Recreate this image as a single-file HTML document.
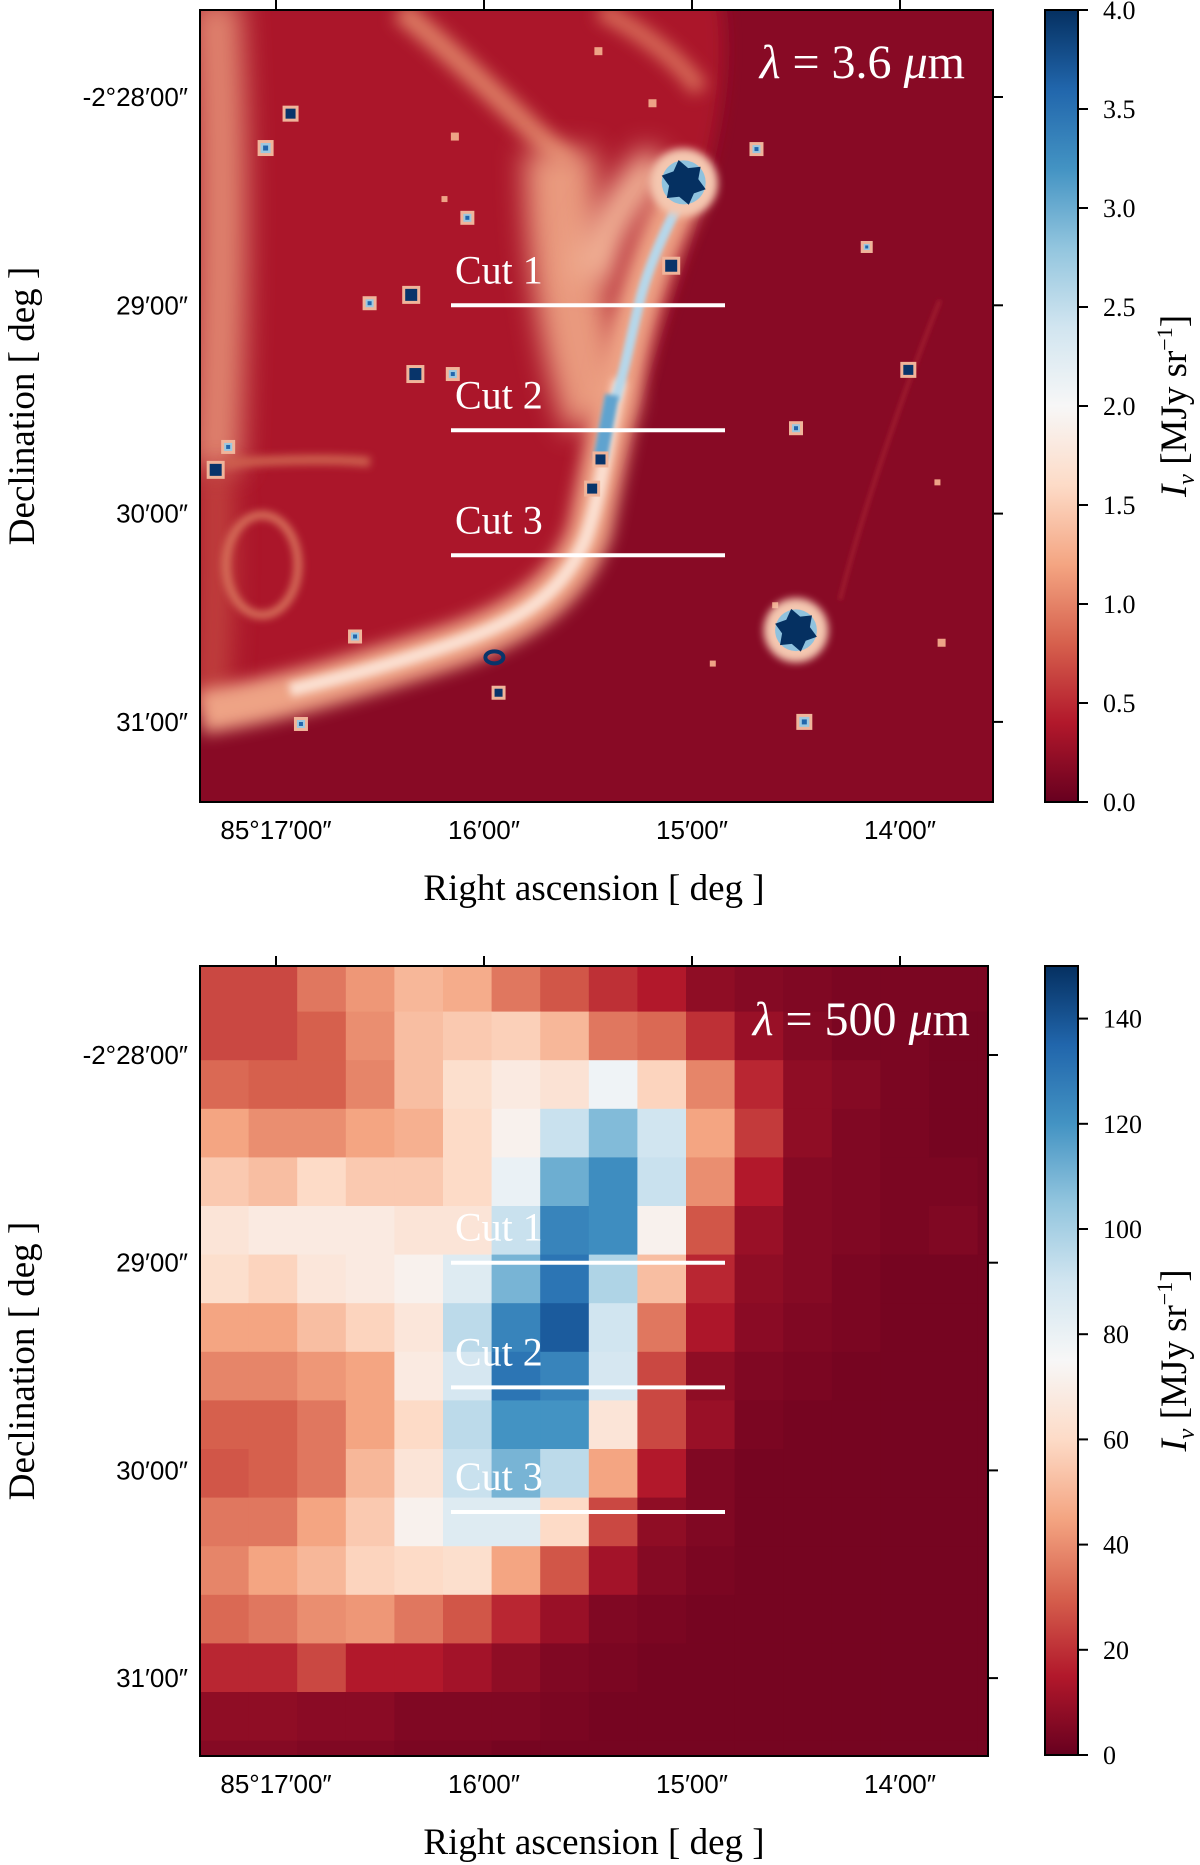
<!DOCTYPE html>
<html><head><meta charset="utf-8"><style>
html,body{margin:0;padding:0;background:#fff;width:1200px;height:1865px;overflow:hidden}
svg text{fill:#000}
.tk{font-family:"Liberation Sans Narrow","Liberation Sans",sans-serif;font-size:26px}
.ttl{font-family:"Liberation Serif",serif;font-size:37px}
.cb{font-family:"Liberation Serif",serif;font-size:26px}
.cut{font-family:"Liberation Serif",serif;font-size:40px;fill:#fff}
.lam{font-family:"Liberation Serif",serif;font-size:48px;fill:#fff}
</style></head><body>
<svg id="fig" width="1200" height="1865" viewBox="0 0 1200 1865" xmlns="http://www.w3.org/2000/svg">
<defs>
<filter id="bl12" filterUnits="userSpaceOnUse" x="0" y="0" width="1200" height="900"><feGaussianBlur stdDeviation="14"/></filter>
<filter id="bl8" filterUnits="userSpaceOnUse" x="0" y="0" width="1200" height="900"><feGaussianBlur stdDeviation="8"/></filter>
<filter id="bl4" filterUnits="userSpaceOnUse" x="0" y="0" width="1200" height="900"><feGaussianBlur stdDeviation="4"/></filter>
<filter id="bl2" filterUnits="userSpaceOnUse" x="0" y="0" width="1200" height="900"><feGaussianBlur stdDeviation="2"/></filter>
<clipPath id="clipTop"><rect x="200" y="10" width="793" height="792"/></clipPath>
<clipPath id="clipBot"><rect x="200" y="966" width="788" height="790"/></clipPath>
<linearGradient id="cmap" x1="0" y1="1" x2="0" y2="0">
<stop offset="0" stop-color="#67001f"/><stop offset="0.1" stop-color="#b2182b"/><stop offset="0.2" stop-color="#d6604d"/><stop offset="0.3" stop-color="#f4a582"/><stop offset="0.4" stop-color="#fddbc7"/><stop offset="0.5" stop-color="#f7f7f7"/><stop offset="0.6" stop-color="#d1e5f0"/><stop offset="0.7" stop-color="#92c5de"/><stop offset="0.8" stop-color="#4393c3"/><stop offset="0.9" stop-color="#2166ac"/><stop offset="1" stop-color="#053061"/>
</linearGradient>
</defs>

<g clip-path="url(#clipTop)">
<rect x="200" y="10" width="793" height="792" fill="#880a25"/>
<path d="M190 0 L720 0 C740 120 680 250 630 420 C600 560 520 640 420 665 C330 690 250 705 190 712 Z" fill="#ab192c" filter="url(#bl8)"/>
<path d="M215 0 C225 150 222 300 215 470" stroke="#e8967a" stroke-width="50" fill="none" filter="url(#bl12)" opacity="0.85"/>
<path d="M215 470 C218 550 215 620 210 700" stroke="#cf5d4c" stroke-width="30" fill="none" filter="url(#bl12)" opacity="0.7"/>
<path d="M400 10 C450 50 510 110 570 165" stroke="#dd7b63" stroke-width="22" fill="none" filter="url(#bl8)"/>
<path d="M600 10 C640 30 680 60 700 90" stroke="#d86c58" stroke-width="18" fill="none" filter="url(#bl8)"/>
<path d="M560 150 C560 250 575 350 600 420" stroke="#e99a7e" stroke-width="70" fill="none" filter="url(#bl12)"/>
<path d="M660 160 C620 200 600 240 590 280" stroke="#f2b497" stroke-width="40" fill="none" filter="url(#bl12)"/>
<path d="M693 176 C660 230 640 290 625 360 C612 420 600 480 590 530 C570 590 520 625 440 650 C360 675 280 700 200 712" stroke="#eea385" stroke-width="44" fill="none" filter="url(#bl8)"/>
<path d="M620 380 C605 450 600 500 585 540 C560 600 510 625 440 648 C380 668 330 680 290 690" stroke="#fbe0d2" stroke-width="14" fill="none" filter="url(#bl4)"/>
<path d="M693 176 C670 220 650 260 640 300 C630 340 625 370 615 400" stroke="#b6d7ea" stroke-width="10" fill="none" filter="url(#bl2)"/>
<path d="M612 395 L600 460" stroke="#5ea3cf" stroke-width="14" fill="none" filter="url(#bl2)"/>
<ellipse cx="262" cy="565" rx="36" ry="50" stroke="#d9735c" stroke-width="8" fill="none" filter="url(#bl4)"/>
<path d="M225 463 C280 460 330 458 370 462" stroke="#cd5e4d" stroke-width="10" fill="none" filter="url(#bl4)"/>
<path d="M940 300 C900 400 860 520 840 600" stroke="#a01a2e" stroke-width="4" fill="none" filter="url(#bl2)"/>
<g id="stars"></g>
</g>
<rect x="200" y="10" width="793" height="792" fill="none" stroke="#000" stroke-width="2"/>
<text class="lam" x="965" y="78" text-anchor="end"><tspan font-style="italic">λ</tspan> = 3.6 <tspan font-style="italic">μ</tspan>m</text>

<g id="heat" clip-path="url(#clipBot)"></g>
<rect x="200" y="966" width="788" height="790" fill="none" stroke="#000" stroke-width="2"/>
<text class="lam" x="970" y="1035" text-anchor="end"><tspan font-style="italic">λ</tspan> = 500 <tspan font-style="italic">μ</tspan>m</text>

<g id="axes"></g>
</svg>
<script>
// bottom panel: 500 micron intensity grid (MJy/sr), rows top->bottom
const heatRows = [
[25,25,35,42,50,47,35,28,20,15,8,6,5,4,4,4,4],
[25,25,30,40,52,55,57,50,35,32,20,10,6,4,4,3,3],
[32,30,30,38,52,62,68,64,78,58,38,18,8,6,4,3,3],
[45,40,40,45,48,60,72,92,108,90,45,22,8,5,4,3,3],
[55,52,60,55,55,60,80,112,122,92,40,15,6,5,4,4,3],
[65,68,68,68,65,65,92,125,122,72,28,10,6,5,4,5,3],
[62,58,66,68,72,85,110,130,98,52,18,8,6,4,3,3,3],
[45,45,52,58,66,95,125,138,90,35,14,7,5,4,3,3,3],
[38,38,42,45,68,88,130,125,88,25,8,5,4,3,3,3,3],
[30,30,35,45,60,95,120,120,65,25,10,4,3,3,3,3,3],
[28,30,35,50,65,92,110,95,45,15,5,3,3,3,3,3,3],
[35,35,45,55,72,85,85,60,25,8,5,3,3,3,3,3,3],
[38,45,50,58,60,62,45,28,12,6,4,3,3,3,3,3,3],
[32,35,40,42,35,28,18,10,5,4,3,3,3,3,3,3,3],
[18,18,25,15,15,12,8,5,4,3,3,3,3,3,3,3,3],
[8,8,7,7,5,5,5,4,3,3,3,3,3,3,3,3,3],
[6,6,5,5,4,4,3,3,3,3,3,3,3,3,3,3,3]
];
const raTicks = ["85°17′00″","16′00″","15′00″","14′00″"];
const decTicks = ["-2°28′00″","29′00″","30′00″","31′00″"];
const cbTopTicks = ["0.0","0.5","1.0","1.5","2.0","2.5","3.0","3.5","4.0"];
const cbTopVals = [0,0.5,1,1.5,2,2.5,3,3.5,4];
const cbBotTicks = ["0","20","40","60","80","100","120","140"];
const cbBotVals = [0,20,40,60,80,100,120,140];
const cutNames = ["Cut 1","Cut 2","Cut 3"];
const cutDecMin = [0.0, 0.6, 1.2];
// point sources: RA minutes east-offset from 85°17', Dec minutes from -2°28'
const starRA  = [0.07,-0.05,0.65,0.45,0.67,0.85,-0.29,-0.23,0.38,1.05,1.07,0.12,2.54,3.04,2.5,2.84,2.31,1.9,1.56,1.52,1.81,0.86,0.92,0.81,1.55,3.18,2.1,3.2,2.4];
const starDec = [0.08,0.245,0.95,0.99,1.33,1.33,1.79,1.68,2.59,2.69,2.86,3.01,3.0,1.31,1.59,0.72,0.25,0.81,1.74,1.88,0.03,0.19,0.58,0.49,-0.22,1.85,2.72,2.62,2.44];
const starSize = [5,5,6,4,6,4,6,4,4,6,4,4,5,5,4,3,4,6,5,5,4,4,4,3,4,3,3,4,3];
const starType = [1,2,1,2,1,2,1,2,2,3,1,2,2,1,2,2,2,1,1,1,0,0,2,0,0,0,0,0,0];

const NS="http://www.w3.org/2000/svg";
function mk(tag, attrs, parent){const e=document.createElementNS(NS,tag);for(const k in attrs)e.setAttribute(k,attrs[k]);parent.appendChild(e);return e;}
const stops=["#67001f","#b2182b","#d6604d","#f4a582","#fddbc7","#f7f7f7","#d1e5f0","#92c5de","#4393c3","#2166ac","#053061"];
function hx(c){return [1,3,5].map(i=>parseInt(c.substr(i,2),16));}
function cmap(t){t=Math.max(0,Math.min(1,t))*10;const i=Math.min(9,Math.floor(t));const f=t-i;const a=hx(stops[i]),b=hx(stops[i+1]);return "rgb("+a.map((v,k)=>Math.round(v+(b[k]-v)*f)).join(",")+")";}

const raX = m => 276 + m*208;
const topDecY = m => 97 + m*208.3;
const botDecY = m => 1055 + m*207.7;
const cbTopY = v => 802 - v/4*792;
const cbBotY = v => 1755 - v/150*789;

const heat=document.getElementById('heat');
const cw=48.6, ch=48.6, x0=200, y0=966-3;
heatRows.forEach((row,r)=>row.forEach((v,c)=>{
  const rc=mk('rect',{x:x0+c*cw,y:y0+r*ch,width:cw+0.6,height:ch+0.6,fill:cmap(v/150)},heat);
  
  
}));

const sg=document.getElementById('stars');
starRA.forEach((ra,i)=>{
  const x=raX(ra), y=topDecY(starDec[i]), s=starSize[i], t=starType[i];
  const g=mk('g',{},sg);
  
  
  if(t===0){mk('rect',{x:x-s,y:y-s,width:2*s,height:2*s,fill:'#eea386'},g);return;}
  if(t===3){mk('ellipse',{cx:x,cy:y,rx:s+3,ry:s,fill:'none',stroke:'#08346a','stroke-width':4},g);return;}
  mk('rect',{x:x-s-3,y:y-s-3,width:2*s+6,height:2*s+6,fill:'#f0b49a'},g);
  mk('rect',{x:x-s,y:y-s,width:2*s,height:2*s,fill:t===1?'#08346a':'#9cc8e0'},g);
  if(t===2) mk('rect',{x:x-s/2,y:y-s/2,width:s,height:s,fill:'#2166ac'},g);
});
[[1.96,0.41,20],[2.5,2.56,19]].forEach(b=>{
  const x=raX(b[0]),y=topDecY(b[1]),s=b[2];
  const g=mk('g',{},sg);
  
  
  mk('circle',{cx:x,cy:y,r:s*1.7,fill:'#f4c7b0',filter:'url(#bl4)'},g);
  mk('circle',{cx:x,cy:y,r:s*1.1,fill:'#8fc2de'},g);
  let pts=[];for(let k=0;k<12;k++){const a=k*Math.PI/6+0.3,rr=k%2?s*0.75:s*1.15;pts.push((x+rr*Math.cos(a)).toFixed(1)+","+(y+rr*Math.sin(a)).toFixed(1));}
  mk('polygon',{points:pts.join(" "),fill:'#053061'},g);
});

const ax=document.getElementById('axes');
function txt(s,attrs,name){const t=mk('text',attrs,ax);t.textContent=s;return t;}
[[10,802,993,topDecY,'top'],[966,1756,988,botDecY,'bottom']].forEach(p=>{
  const [yt,yb,xr,decY,nm]=p;
  raTicks.forEach((s,i)=>{
    const x=raX(i);
    const l=mk('line',{x1:x,y1:yt,x2:x,y2:yt-10,stroke:'#000','stroke-width':2},ax);
    
    txt(s,{class:'tk',x:x,y:yb+37,'text-anchor':'middle'},nm+'-ra-tick-label');
  });
  decTicks.forEach((s,i)=>{
    const y=decY(i);
    const l=mk('line',{x1:xr,y1:y,x2:xr+10,y2:y,stroke:'#000','stroke-width':2},ax);
    
    txt(s,{class:'tk',x:188,y:y+9,'text-anchor':'end'},nm+'-dec-tick-label');
  });
  txt('Right ascension [ deg ]',{class:'ttl',x:594,y:yb+98,'text-anchor':'middle'},nm+'-x-axis-title');
  const cy=(yt+yb)/2;
  txt('Declination [ deg ]',{class:'ttl',x:0,y:0,'text-anchor':'middle',transform:'translate(34,'+cy+') rotate(-90)'},nm+'-y-axis-title');
  cutNames.forEach((c,i)=>{
    const y=decY(1+cutDecMin[i]);
    const l=mk('line',{x1:451,y1:y,x2:725,y2:y,stroke:'#fff','stroke-width':4},ax);
    
    txt(c,{class:'cut',x:455,y:y-22},nm+'-cut-label');
  });
});
function colorbar(yt,yb,vals,labels,yf,nm){
  const r=mk('rect',{x:1045,y:yt,width:33,height:yb-yt,fill:'url(#cmap)',stroke:'#000','stroke-width':2},ax);
  
  vals.forEach((v,i)=>{
    const y=yf(v);
    const l=mk('line',{x1:1078,y1:y,x2:1088,y2:y,stroke:'#000','stroke-width':2},ax);
    
    txt(labels[i],{class:'cb',x:1103,y:y+9},nm+'-colorbar-tick-label');
  });
  const cy=(yt+yb)/2;
  const t=mk('text',{class:'ttl',x:0,y:0,'text-anchor':'middle',transform:'translate(1186,'+cy+') rotate(-90)'},ax);
  
  t.innerHTML='<tspan font-style="italic">I</tspan><tspan font-style="italic" font-size="24" dy="8">ν</tspan><tspan dy="-8"> [MJy sr</tspan><tspan font-size="22" dy="-14">−1</tspan><tspan dy="14">]</tspan>';
}
colorbar(10,802,cbTopVals,cbTopTicks,cbTopY,'top');
colorbar(966,1755,cbBotVals,cbBotTicks,cbBotY,'bottom');
</script>
</body></html>
